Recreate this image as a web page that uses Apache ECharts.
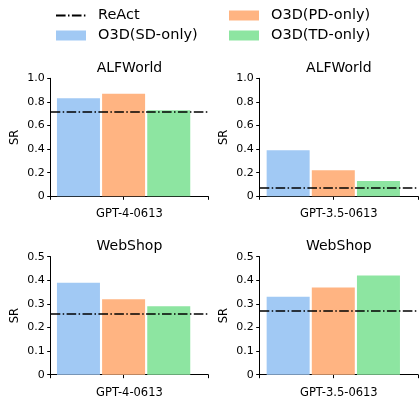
<!DOCTYPE html>
<html>
<head>
<meta charset="utf-8">
<script src="https://cdn.jsdelivr.net/npm/echarts@6/dist/echarts.min.js"></script>
<style>
  html, body { margin: 0; padding: 0; background: #fff; }
  #chart { width: 419px; height: 400px; }
</style>
</head>
<body>
<div id="chart"></div>
<script>
var tasks = ['ALFWorld', 'WebShop'];
var models = ['GPT-4-0613', 'GPT-3.5-0613'];
var methods = ['O3D(SD-only)', 'O3D(PD-only)', 'O3D(TD-only)'];

// values per task, one entry per model
var alfSD = [0.83, 0.39];
var alfPD = [0.87, 0.22];
var alfTD = [0.73, 0.13];
var alfReAct = [0.72, 0.07];

var webSD = [0.39, 0.33];
var webPD = [0.32, 0.37];
var webTD = [0.29, 0.42];
var webReAct = [0.26, 0.27];

var yMax = [1.0, 0.5];
var yStep = [0.2, 0.1];

var colors = ['#a1c9f4', '#ffb482', '#8de5a1'];
var font = 'DejaVu Sans';
var dashDot = [9.6, 2.4, 1.5, 2.4];

var values = [[alfSD, alfPD, alfTD], [webSD, webPD, webTD]];
var react = [alfReAct, webReAct];

// panel geometry (px)
var frameLeft = [50.7, 259.7];
var frameWidth = [157.5, 158.3];
var barWidthGrid = [145.8, 147.2];
var rowTop = [78.3, 256.7];
var plotH = 118;
var titleTop = [61, 239];

var chart = echarts.init(document.getElementById('chart'));

var grids = [], xAxes = [], yAxes = [], series = [], titles = [];

for (var r = 0; r < 2; r++) {
    for (var c = 0; c < 2; c++) {
        var f = grids.length;
        grids.push({ left: frameLeft[c], top: rowTop[r], width: frameWidth[c], height: plotH });
        grids.push({ left: frameLeft[c], top: rowTop[r], width: barWidthGrid[c], height: plotH });

        titles.push({
            text: tasks[r],
            left: frameLeft[c] + frameWidth[c] / 2,
            top: titleTop[r],
            textAlign: 'center',
            padding: 0,
            textStyle: { fontFamily: font, fontSize: 14, fontWeight: 'normal', color: '#000' }
        });

        // frame axes
        xAxes.push({
            gridIndex: f,
            type: 'category',
            data: [''],
            name: models[c],
            nameLocation: 'middle',
            nameGap: 12,
            nameTextStyle: { fontFamily: font, fontSize: 11.5, color: '#000' },
            axisLine: { lineStyle: { color: '#000', width: 1 } },
            axisTick: { show: true, length: 3.5, lineStyle: { color: '#000' } },
            axisLabel: { show: false }
        });
        yAxes.push({
            gridIndex: f,
            type: 'value',
            min: 0,
            max: yMax[r],
            interval: yStep[r],
            name: 'SR',
            nameLocation: 'middle',
            nameRotate: 90,
            nameGap: 30,
            nameTextStyle: { fontFamily: font, fontSize: 11.5, color: '#000' },
            splitLine: { show: false },
            axisLine: { show: true, lineStyle: { color: '#000', width: 1 } },
            axisTick: { show: true, length: 3.5, lineStyle: { color: '#000' } },
            axisLabel: {
                margin: 6,
                fontFamily: font, fontSize: 11, color: '#000',
                formatter: function (v) { return v === 0 ? '0' : v.toFixed(1); }
            }
        });
        // bar axes
        xAxes.push({
            gridIndex: f + 1,
            type: 'category',
            data: [models[c]],
            axisLine: { show: false },
            axisTick: { show: true, alignWithLabel: true, length: 3.5, lineStyle: { color: '#000' } },
            axisLabel: { show: false }
        });
        yAxes.push({
            gridIndex: f + 1,
            type: 'value',
            min: 0,
            max: yMax[r],
            show: false
        });

        for (var m = 0; m < 3; m++) {
            series.push({
                name: methods[m],
                type: 'bar',
                xAxisIndex: f + 1,
                yAxisIndex: f + 1,
                barWidth: 43,
                barGap: '5%',
                itemStyle: { color: colors[m] },
                data: [values[r][m][c]]
            });
        }
        series.push({
            name: 'ReAct',
            type: 'line',
            xAxisIndex: f,
            yAxisIndex: f,
            symbol: 'none',
            z: 5,
            itemStyle: { color: '#000' },
            lineStyle: { color: '#000', width: 1.5, type: dashDot },
            data: [],
            markLine: {
                silent: true,
                symbol: ['none', 'none'],
                label: { show: false },
                lineStyle: { color: '#000', width: 1.5, type: dashDot },
                data: [{ yAxis: react[r][c] }]
            }
        });
    }
}

var legendText = { fontFamily: font, fontSize: 14.5, color: '#000', padding: [0, 0, 0, 7] };

var option = {
    animation: false,
    title: titles,
    legend: [
        {
            orient: 'vertical',
            left: 50, top: 3,
            itemWidth: 30, itemHeight: 10, itemGap: 5,
            textStyle: legendText,
            data: [
                { name: 'ReAct', itemStyle: { opacity: 0 } },
                { name: methods[0], icon: 'rect' }
            ]
        },
        {
            orient: 'vertical',
            left: 224, top: 3,
            itemWidth: 30, itemHeight: 10, itemGap: 5,
            textStyle: legendText,
            data: [
                { name: methods[1], icon: 'rect' },
                { name: methods[2], icon: 'rect' }
            ]
        }
    ],
    grid: grids,
    xAxis: xAxes,
    yAxis: yAxes,
    series: series
};
chart.setOption(option);
</script>
</body>
</html>
